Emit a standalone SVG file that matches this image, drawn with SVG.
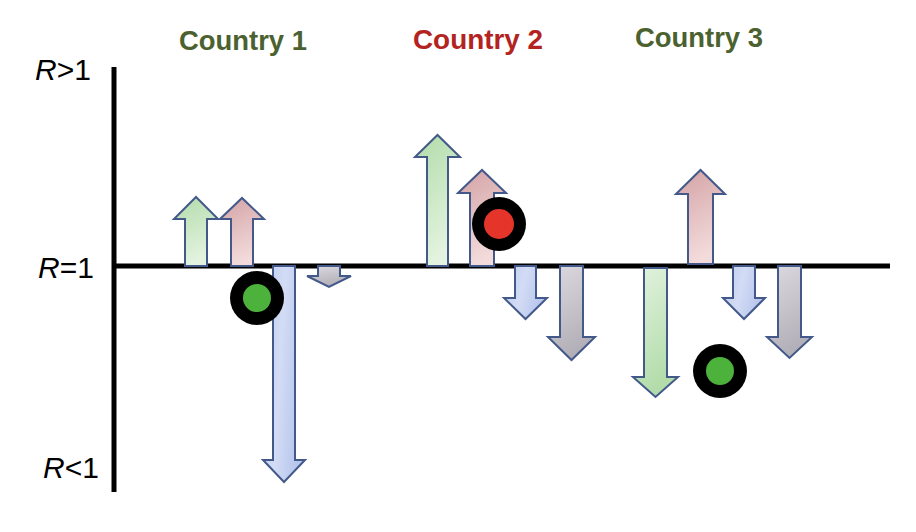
<svg xmlns="http://www.w3.org/2000/svg" width="916" height="532" viewBox="0 0 916 532">
  <defs>
    <linearGradient id="gUp" x1="0" y1="0" x2="0.3" y2="1">
      <stop offset="0" stop-color="#b2dcaa"/>
      <stop offset="1" stop-color="#e3f3df"/>
    </linearGradient>
    <linearGradient id="gDown" x1="0" y1="0" x2="0.3" y2="1">
      <stop offset="0" stop-color="#e3f3df"/>
      <stop offset="1" stop-color="#b2dcaa"/>
    </linearGradient>
    <linearGradient id="pUp" x1="0" y1="0" x2="0.3" y2="1">
      <stop offset="0" stop-color="#d3a2a5"/>
      <stop offset="1" stop-color="#f3dbdb"/>
    </linearGradient>
    <linearGradient id="bDown" x1="0" y1="0" x2="1" y2="0.3">
      <stop offset="0" stop-color="#bccaee"/>
      <stop offset="0.5" stop-color="#d3dcf5"/>
      <stop offset="1" stop-color="#b6c5ec"/>
    </linearGradient>
    <linearGradient id="gyDown" x1="0" y1="0" x2="0.3" y2="1">
      <stop offset="0" stop-color="#dcdae0"/>
      <stop offset="1" stop-color="#b3afb8"/>
    </linearGradient>
  </defs>
  <style>
    .arrow { stroke: #42598a; stroke-width: 2; stroke-linejoin: miter; }
    .axis { stroke: #000; stroke-width: 5; fill: none; }
    .ring { fill: #000; }
    .country { font-family: "Liberation Sans", Arial, sans-serif; font-weight: bold; font-size: 28px; }
    .rlab { font-family: "Liberation Sans", Arial, sans-serif; font-size: 30px; fill: #000; }
  </style>
  <rect width="916" height="532" fill="#fff"/>

  <g id="axes">
    <line class="axis" x1="114" y1="67" x2="114" y2="492"/>
    <line class="axis" x1="112" y1="266" x2="890" y2="266"/>
  </g>

  <g id="labels">
    <text class="rlab" x="91" y="80" text-anchor="end"><tspan font-style="italic">R</tspan>&gt;1</text>
    <text class="rlab" x="94" y="278" text-anchor="end"><tspan font-style="italic">R</tspan>=1</text>
    <text class="rlab" x="99" y="478" text-anchor="end"><tspan font-style="italic">R</tspan>&lt;1</text>
  </g>

  <g id="country1">
    <text class="country" x="179" y="50" fill="#4b6130" textLength="128" lengthAdjust="spacingAndGlyphs">Country 1</text>
    <path class="arrow" fill="url(#gUp)" d="M185 266 L185 219 L174 219 L196 197 L218 219 L207 219 L207 266 Z"/>
    <path class="arrow" fill="url(#pUp)" d="M231 266 L231 219 L220 219 L242 198 L264 219 L253 219 L253 266 Z"/>
    <path class="arrow" fill="url(#bDown)" d="M273 266 L273 460 L263 460 L284 482 L305 460 L295 460 L295 266 Z"/>
    <path class="arrow" fill="url(#gyDown)" d="M318 266 L318 276 L307 276 L329 287 L351 276 L340 276 L340 266 Z"/>
    <circle class="ring" cx="257" cy="298" r="27"/>
    <circle cx="257" cy="298" r="14" fill="#4cb23c"/>
  </g>

  <g id="country2">
    <text class="country" x="413" y="49" fill="#b3231f" textLength="130" lengthAdjust="spacingAndGlyphs">Country 2</text>
    <path class="arrow" fill="url(#gUp)" d="M427 266 L427 157 L415 157 L437.5 135 L460 157 L448 157 L448 266 Z"/>
    <path class="arrow" fill="url(#pUp)" d="M470 266 L470 193 L458 193 L482 170 L506 193 L494 193 L494 266 Z"/>
    <path class="arrow" fill="url(#bDown)" d="M515 266 L515 298 L504 298 L525.5 319 L547 298 L536 298 L536 266 Z"/>
    <path class="arrow" fill="url(#gyDown)" d="M560 266 L560 337 L548 337 L571.5 360 L595 337 L583 337 L583 266 Z"/>
    <circle class="ring" cx="499" cy="224" r="27"/>
    <circle cx="499" cy="224" r="15" fill="#e5352a"/>
  </g>

  <g id="country3">
    <text class="country" x="635" y="47" fill="#4b6130" textLength="128" lengthAdjust="spacingAndGlyphs">Country 3</text>
    <path class="arrow" fill="url(#gDown)" d="M644 268 L644 377 L633 377 L655.5 397 L678 377 L667 377 L667 268 Z"/>
    <path class="arrow" fill="url(#pUp)" d="M688 264 L688 194 L676 194 L700.5 170 L725 194 L713 194 L713 264 Z"/>
    <path class="arrow" fill="url(#bDown)" d="M733 266 L733 298 L723 298 L744 319 L765 298 L755 298 L755 266 Z"/>
    <path class="arrow" fill="url(#gyDown)" d="M778 266 L778 337 L767 337 L789.5 358 L812 337 L801 337 L801 266 Z"/>
    <circle class="ring" cx="720" cy="371" r="27"/>
    <circle cx="720" cy="371" r="14" fill="#4cb23c"/>
  </g>
</svg>
